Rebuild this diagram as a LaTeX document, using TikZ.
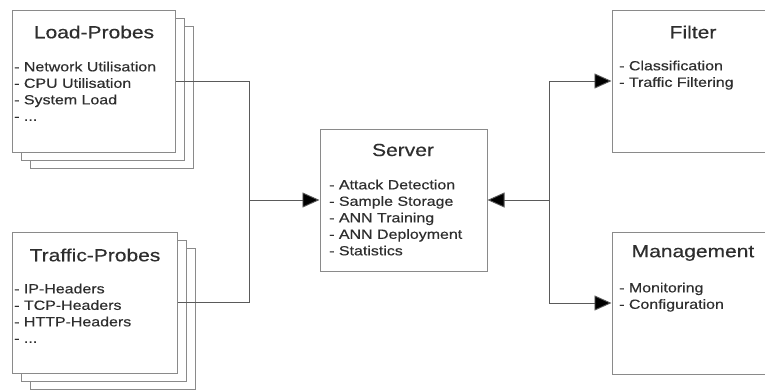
\documentclass[tikz,border=0pt]{standalone}
\usepackage{fontspec}
\setmainfont{Liberation Sans}[FakeStretch=1.2,FakeBold=0.4]
\usetikzlibrary{arrows.meta}
\definecolor{boxline}{HTML}{8A8A8A}
\definecolor{txt}{HTML}{2E2E2E}
\definecolor{conn}{HTML}{5A5A5A}
\tikzset{
  box/.style={draw=boxline, line width=1pt, fill=white, inner sep=0pt},
  title/.style={text=txt, font=\fontsize{17.5}{20}\selectfont, inner sep=0pt},
  items/.style={text=txt, font=\fontsize{13.3}{16.5}\selectfont, inner sep=0pt, align=left, anchor=north west},
  conn/.style={draw=conn, line width=0.9pt},
  tri/.style={-{Triangle[length=17pt,width=15pt,fill=black]}}
}
\begin{document}
\begin{tikzpicture}[x=1pt,y=-1pt]
\useasboundingbox (0,0) rectangle (765,389);
\clip (0,0) rectangle (765,389);
% Load-Probes stack
\node[box, minimum width=163pt, minimum height=142pt] (lp3) at (111.5,97) {};
\node[box, minimum width=163pt, minimum height=142pt] (lp2) at (102.5,89) {};
\node[box, minimum width=163pt, minimum height=142pt] (lp) at (93.5,81) {};
\node[title] (lpt) at (94,32) {Load-Probes};
\node[items] (lpi) at (14,61.5) {- Network Utilisation\\- CPU Utilisation\\- System Load\\- ...};
% Traffic-Probes stack
\node[box, minimum width=165pt, minimum height=141pt] (tp3) at (112.5,318.5) {};
\node[box, minimum width=165pt, minimum height=141pt] (tp2) at (103.5,310.5) {};
\node[box, minimum width=165pt, minimum height=141pt] (tp) at (94.5,302.5) {};
\node[title] (tpt) at (95,255) {Traffic-Probes};
\node[items] (tpi) at (14,283.5) {- IP-Headers\\- TCP-Headers\\- HTTP-Headers\\- ...};
% Server
\node[box, minimum width=167pt, minimum height=142pt] (srv) at (403.5,200) {};
\node[title] (srvt) at (403,150) {Server};
\node[items] (srvi) at (329,179.5) {- Attack Detection\\- Sample Storage\\- ANN Training\\- ANN Deployment\\- Statistics};
% Filter
\node[box, minimum width=162pt, minimum height=142pt] (flt) at (693,81) {};
\node[title] (fltt) at (693,32) {Filter};
\node[items] (flti) at (619,60.5) {- Classification\\- Traffic Filtering};
% Management
\node[box, minimum width=162pt, minimum height=142pt] (mgt) at (693,303) {};
\node[title] (mgtt) at (693,253) {Management};
\node[items] (mgti) at (619,282.5) {- Monitoring\\- Configuration};
% connectors
\coordinate (jl) at (249,200);
\coordinate (jr) at (549,200);
\draw[conn] (lp.east) -| (jl);
\draw[conn] (tp.east) -| (jl);
\draw[conn, tri] (jl) -- (srv.west);
\draw[conn, tri] (jr) -- (srv.east);
\draw[conn, tri] (jr) |- (flt.west);
\draw[conn, tri] (jr) |- (mgt.west);
\end{tikzpicture}
\end{document}
